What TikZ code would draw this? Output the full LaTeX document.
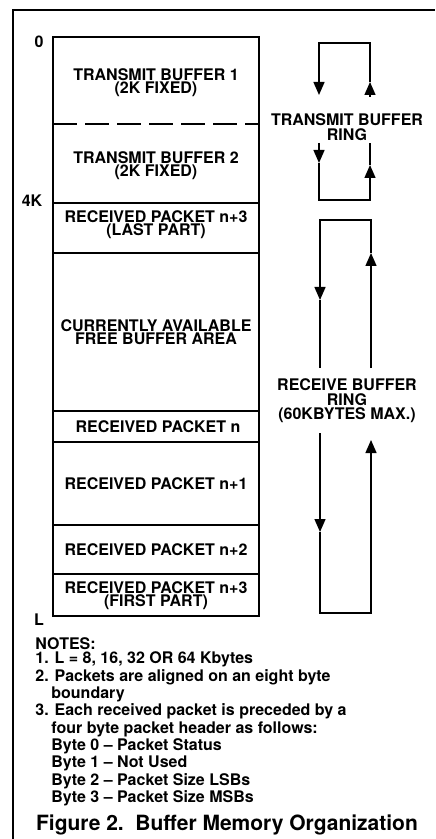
\documentclass[tikz,border=0pt]{standalone}
\usepackage{fontspec}
\setmainfont{TeX Gyre Heros}
\usetikzlibrary{arrows.meta}
\tikzset{
	memtext/.style={
			font=\fontsize{8}{6.6}\selectfont\bfseries,
			align=center,
			inner sep=0pt
		},
	sidelabel/.style={
			font=\fontsize{8}{8}\selectfont\bfseries,
			inner sep=0pt
		},
	ringtext/.style={
			memtext,
			font=\fontsize{8}{7.3}\selectfont\bfseries
		},
	memframe/.style={
			line width=1.3pt
		},
	memline/.style={
			line width=1.1pt
		},
	ringline/.style={
			line width=0.7pt
		},
	ringarrow/.style={
			ringline,
			-{Triangle[length=6.5pt,width=5.5pt]}
		},
	noteblock/.style={
			font=\fontsize{8}{7.3}\selectfont\bfseries,
			align=left,
			inner sep=0pt
		},
	captiontext/.style={
			font=\fontsize{10.5}{12}\selectfont\bfseries,
			inner sep=0pt
		}
}

\begin{document}
\begin{tikzpicture}[x=0.5pt, y=-0.5pt]
\useasboundingbox (0,0) rectangle (435,839);
\draw[line width=0.65pt] (13,839) -- (13,10) -- (435,10);

    % memory map
    \draw[memframe] (53,37) rectangle (259,616);
    \draw[memline, dash pattern=on 12pt off 4pt] (53,124) -- (259,124);
    \foreach \y in {203,253,411,442,525,574}
        \draw[memline] (53,\y) -- (259,\y);

    \node[memtext] (tb1) at (156,83) {TRANSMIT BUFFER 1\\(2K FIXED)};
    \node[memtext] (tb2) at (156,166) {TRANSMIT BUFFER 2\\(2K FIXED)};
    \node[memtext] (rplast) at (156,225) {RECEIVED PACKET n+3\\(LAST PART)};
    \node[memtext] (free) at (156,332) {CURRENTLY AVAILABLE\\FREE BUFFER AREA};
    \node[memtext] (rpn) at (158,427) {RECEIVED PACKET n};
    \node[memtext] (rpn1) at (156,484) {RECEIVED PACKET n+1};
    \node[memtext] (rpn2) at (156,550) {RECEIVED PACKET n+2};
    \node[memtext] (rpfirst) at (156,596) {RECEIVED PACKET n+3\\(FIRST PART)};

    \node[sidelabel] (addr0) at (39,42) {0};
    \node[sidelabel] (addr4k) at (32,201) {4K};
    \node[sidelabel] (addrL) at (39,620) {L};

    % transmit buffer ring
    \coordinate (tl1) at (319,43);
    \coordinate (tr1) at (370,43);
    \coordinate (tl2) at (319,95);
    \coordinate (tr2) at (370,97);
    \coordinate (tr2tip) at (370,82);
    \coordinate (tl3) at (319,143);
    \coordinate (tl3tip) at (319,163);
    \coordinate (tl4) at (319,200);
    \coordinate (tr4) at (370,200);
    \coordinate (tr3tip) at (370,165);
    \coordinate (tr3) at (370,143);
    \draw[ringarrow] (tr2tip) -- (tr1) -- (tl1) -- (tl2);
    \draw[ringarrow] (tr2) -- (tr2tip);
    \draw[ringarrow] (tl3) -- (tl3tip);
    \draw[ringarrow] (tl3tip) -- (tl4) -- (tr4) -- (tr3tip);
    \draw[ringline] (tr3tip) -- (tr3);
    \node[ringtext] (txring) at (347,127) {TRANSMIT BUFFER\\RING};

    % receive buffer ring
    \coordinate (rl1) at (320,220);
    \coordinate (rr1) at (371,220);
    \coordinate (rl2tip) at (320,300);
    \coordinate (rl2) at (320,368);
    \coordinate (rr2) at (371,368);
    \coordinate (rr2tip) at (371,253);
    \coordinate (rl3) at (320,433);
    \coordinate (rl3tip) at (320,532);
    \coordinate (rl4) at (320,613);
    \coordinate (rr4) at (371,613);
    \coordinate (rr3tip) at (371,440);
    \draw[ringarrow] (rr2tip) -- (rr1) -- (rl1) -- (rl2tip);
    \draw[ringline] (rl2tip) -- (rl2);
    \draw[ringarrow] (rr2) -- (rr2tip);
    \draw[ringarrow] (rl3) -- (rl3tip);
    \draw[ringarrow] (rl3tip) -- (rl4) -- (rr4) -- (rr3tip);
    \node[ringtext] (rxring) at (347,401) {RECEIVE BUFFER\\RING\\(60KBYTES MAX.)};

    % notes and caption
    \node[noteblock, anchor=north west] (notes) at (35,637) {NOTES:\\
        1. L = 8, 16, 32 OR 64 Kbytes\\
        2. Packets are aligned on an eight byte\\
        \hspace*{8pt}boundary\\
        3. Each received packet is preceded by a\\
        \hspace*{8pt}four byte packet header as follows:\\
        \hspace*{8pt}Byte 0 -- Packet Status\\
        \hspace*{8pt}Byte 1 -- Not Used\\
        \hspace*{8pt}Byte 2 -- Packet Size LSBs\\
        \hspace*{8pt}Byte 3 -- Packet Size MSBs};
    \node[captiontext] (caption) at (227,825) {Figure 2.\ \ Buffer Memory Organization};
\end{tikzpicture}
\end{document}
